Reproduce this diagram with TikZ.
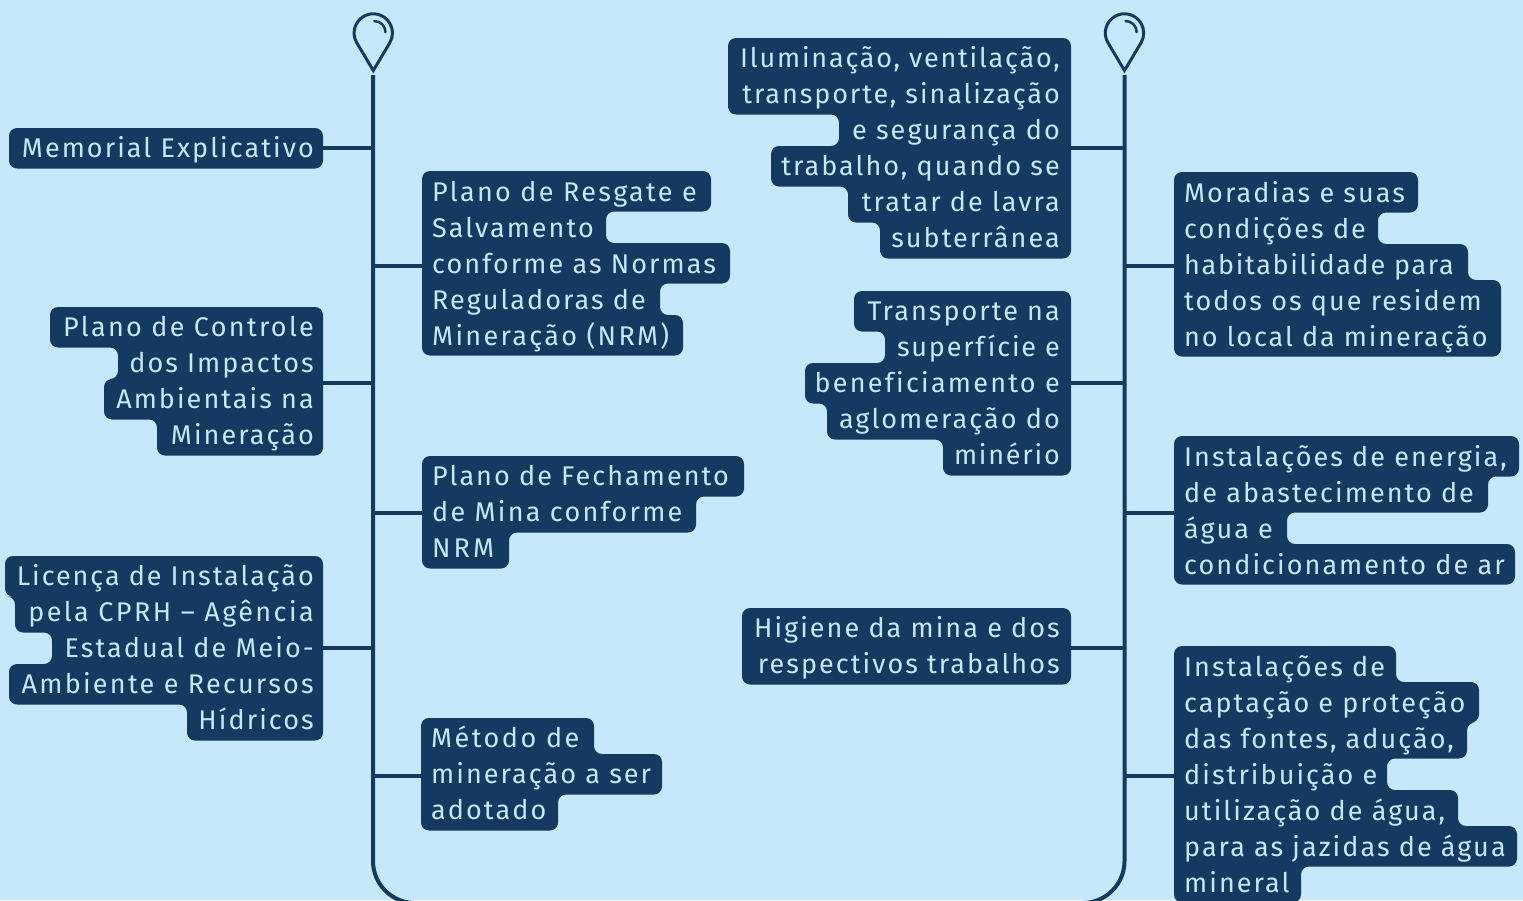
\documentclass[tikz,border=0pt]{standalone}
\usepackage{fontspec}
\setmainfont[LetterSpace=7.6,Ligatures=NoCommon]{Fira Sans}
\usetikzlibrary{calc}
\definecolor{bgc}{HTML}{C5E8FA}
\definecolor{boxc}{HTML}{153A61}
\definecolor{txtc}{HTML}{C5E8FA}
\tikzset{
  boxfill/.style={fill=boxc,rounded corners=8pt},
  lbl/.style={inner sep=0pt,text=txtc,font=\fontsize{27}{36}\selectfont},
  lblL/.style={lbl,anchor=north west,align=left},
  lblR/.style={lbl,anchor=north east,align=right},
  link/.style={draw=boxc,line width=4pt},
  spine/.style={draw=boxc,line width=4pt},
  pin/.style={draw=boxc,line width=3pt,line join=miter},
  shine/.style={draw=boxc,line width=2.5pt,line cap=round},
}
\newcommand\fs{\rule{0pt}{25pt}}
\newcommand\trk[2]{{\addfontfeature{LetterSpace=#1}#2}}
\newcommand\stepoutline[4]{%
  \gdef\pth{(#2,#1)}%
  \gdef\prv{none}%
  \foreach \e [count=\i from 0] in {#4}{%
    \ifnum\i=0
      \xdef\pth{\pth -- (\e,#1)}%
    \else
      \ifdim\e pt=\prv pt\else
        \pgfmathsetmacro\ya{#1+36*\i}%
        \pgfmathsetmacro\yb{#1+40.5+36*(\i-1)}%
        \pgfmathparse{(#3)*(\e-\prv)>0?\ya:\yb}%
        \xdef\pth{\pth -- (\prv,\pgfmathresult) -- (\e,\pgfmathresult)}%
      \fi
    \fi
    \xdef\prv{\e}%
    \xdef\cnt{\i}%
  }%
  \pgfmathsetmacro\yz{#1+40.5+36*\cnt}%
  \edef\tmpdraw{\noexpand\fill[boxfill] \pth -- (\prv,\yz) -- (#2,\yz) -- cycle;}%
  \tmpdraw
}
\newcommand\pinmark[3]{% name, x, tip y
  \coordinate (#1) at (#2,#3);
  \draw[pin] (#1) -- ++(-16.5,-27.67) arc[start angle=149.2,end angle=390.8,radius=19.2] -- cycle;
  \draw[shine] ($(#1)+(1,-49.5)$) arc[start angle=270,end angle=360,radius=11.2];
}
\begin{document}
\begin{tikzpicture}[x=1pt,y=-1pt]
\useasboundingbox (0,0) rectangle (1523,900);
\fill[bgc] (0,0) rectangle (1523,900);
\clip (0,0) rectangle (1523,900);

% pins and spines
\pinmark{pinL}{373.3}{70.5}
\pinmark{pinR}{1124.5}{70.5}
\coordinate (bl) at (373,903);
\coordinate (br) at (1124.5,903);
\draw[spine,rounded corners=42pt] (373,75) -- (bl) -- (br) -- (1124.5,75);

% boxes
\stepoutline{128}{323}{-1}{9}
\stepoutline{307}{323}{-1}{50,118,104,157}
\stepoutline{556}{323}{-1}{5,15,52,9,187}
\stepoutline{171}{422}{1}{711,606,730,660,683}
\stepoutline{456}{422}{1}{744,696,509}
\stepoutline{718}{421}{1}{594,662,558}
\stepoutline{38}{1071}{-1}{728,728,839,771,848,880}
\stepoutline{291}{1071}{-1}{854,885,805,827,943}
\stepoutline{608}{1071}{-1}{742,742}
\stepoutline{172}{1174}{1}{1418,1378,1468,1501,1501}
\stepoutline{436}{1174}{1}{1519,1488,1287,1515}
\stepoutline{646}{1174}{1}{1396,1479,1467,1387,1458,1517,1301}

% labels
\node[lblR] (memorial) at (314,132) {\fs Memorial Explicativo};
\node[lblR] (controle) at (314,311) {\fs \trk{8.5}{Plano de Controle}\\dos Impactos\\Ambientais na\\Mineração};
\node[lblR] (licenca) at (314,560) {\fs \trk{7.1}{Licença de Instalação}\\\trk{9}{pela CPRH – Agência}\\Estadual de Meio-\\\trk{8.4}{Ambiente e Recursos}\\Hídricos};
\node[lblL] (resgate) at (432,176.5) {\fs \trk{8.6}{Plano de Resgate e}\\Salvamento\\conforme as Normas\\Reguladoras de\\\trk{8.6}{Mineração (NRM)}};
\node[lblL] (fechamento) at (432,460) {\fs Plano de Fechamento\\\trk{8.3}{de Mina conforme}\\\trk{11.3}{NRM}};
\node[lblL] (metodo) at (431,722) {\fs \trk{9.2}{Método de}\\mineração a ser\\adotado};
\node[lblR] (iluminacao) at (1060,42) {\fs \trk{6.6}{Iluminação, ventilação,}\\\trk{7.1}{transporte, sinalização}\\e segurança do\\trabalho, quando se\\tratar de lavra\\subterrânea};
\node[lblR] (transporte) at (1060,295) {\fs Transporte na\\\trk{6.6}{superfície e}\\\trk{8.3}{beneficiamento e}\\aglomeração do\\\trk{6.6}{minério}};
\node[lblR] (higiene) at (1060,612) {\fs Higiene da mina e dos\\respectivos trabalhos};
\node[lblL] (moradias) at (1184,177.5) {\fs Moradias e suas\\condições de\\\trk{6.2}{habitabilidade para}\\todos os que residem\\\trk{7.1}{no local da mineração}};
\node[lblL] (energia) at (1184,441.5) {\fs Instalações de energia,\\de abastecimento de\\água e\\condicionamento de ar};
\node[lblL] (captacao) at (1184,651.5) {\fs Instalações de\\captação e proteção\\das fontes, adução,\\distribuição e\\utilização de água,\\para as jazidas de água\\mineral};

% connectors: free ends sit on the spines
\coordinate (memP) at (323,148);
\coordinate (conP) at (323,383);
\coordinate (licP) at (323,648);
\coordinate (resP) at (422,266);
\coordinate (fecP) at (422,513);
\coordinate (metP) at (421,776);
\coordinate (iluP) at (1071,148);
\coordinate (traP) at (1071,383);
\coordinate (higP) at (1071,648);
\coordinate (morP) at (1174,266);
\coordinate (eneP) at (1174,513);
\coordinate (capP) at (1174,776);
\foreach \p in {memP,conP,licP,resP,fecP,metP}{\draw[link] (\p) -- (\p -| bl);}
\foreach \p in {iluP,traP,higP,morP,eneP,capP}{\draw[link] (\p) -- (\p -| br);}
\end{tikzpicture}
\end{document}
